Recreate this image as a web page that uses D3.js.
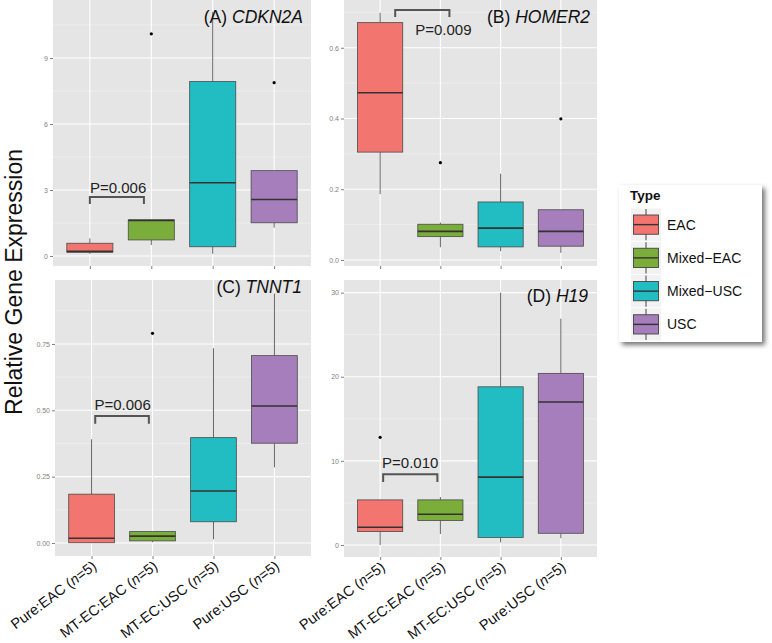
<!DOCTYPE html>
<html><head><meta charset="utf-8">
<script src="https://cdn.jsdelivr.net/npm/d3@7"></script>
<style>body{margin:0;background:#fff;} text{font-family:"Liberation Sans",Arial,sans-serif;}</style>
</head><body>
<svg id="chart" width="772" height="643"></svg>
<script>
// ---------------- data ----------------
const categories = ["Pure:EAC", "MT-EC:EAC", "MT-EC:USC", "Pure:USC"];
const sampleSizes = [5, 5, 5, 5];
const types = ["EAC", "Mixed-EAC", "Mixed-USC", "USC"];
const typeColors = ["#F2766F", "#7AAD3A", "#22BDC2", "#A57EBB"];

// [lower whisker, q1, median, q3, upper whisker]
const cdkn2aStats = [[0.09, 0.17, 0.21, 0.58, 0.80], [0.50, 0.73, 1.62, 1.64, 1.64], [0.10, 0.42, 3.33, 7.93, 11.10], [1.29, 1.51, 2.57, 3.88, 3.88]];
const cdkn2aOutliers = [[], [10.1], [], [7.88]];
const homer2Stats = [[0.186, 0.305, 0.473, 0.671, 0.699], [0.036, 0.066, 0.081, 0.101, 0.106], [0.025, 0.037, 0.090, 0.164, 0.244], [0.020, 0.039, 0.081, 0.142, 0.142]];
const homer2Outliers = [[], [0.275], [], [0.399]];
const tnnt1Stats = [[0.000, 0.001, 0.018, 0.184, 0.391], [0.003, 0.008, 0.026, 0.043, 0.043], [0.014, 0.080, 0.196, 0.397, 0.734], [0.285, 0.376, 0.516, 0.706, 0.940]];
const tnnt1Outliers = [[], [0.79], [], []];
const h19Stats = [[0.0, 1.59, 2.10, 5.36, 5.36], [1.30, 2.90, 3.65, 5.36, 5.70], [0.30, 0.90, 8.06, 18.80, 30.0], [0.80, 1.39, 17.0, 20.4, 26.9]];
const h19Outliers = [[12.8], [], [], []];

const cdkn2aTicks = [0, 3, 6, 9];
const homer2Ticks = [0, 0.2, 0.4, 0.6];
const tnnt1Ticks = [0, 0.25, 0.5, 0.75];
const h19Ticks = [0, 10, 20, 30];

const pValues = ["P=0.006", "P=0.009", "P=0.006", "P=0.010"];
const genes = ["CDKN2A", "HOMER2", "TNNT1", "H19"];
const panelLetters = ["(A)", "(B)", "(C)", "(D)"];

// ---------------- layout ----------------
const panels = [
  {stats: cdkn2aStats, out: cdkn2aOutliers, ticks: cdkn2aTicks, fmt: d3.format("d"), dom: [-0.455, 11.64],
   box: [53, 311, 0, 266], br: [1.0, 1.88, 2.68, 2.36], pt: [1.46, 2.86], title: [303, 23], xlabels: false},
  {stats: homer2Stats, out: homer2Outliers, ticks: homer2Ticks, fmt: d3.format(".1f"), dom: [-0.017, 0.735],
   box: [344, 597, 0, 266], br: [1.25, 2.15, 0.707, 0.687], pt: [2.05, 0.637], title: [590, 23], xlabels: false},
  {stats: tnnt1Stats, out: tnnt1Outliers, ticks: tnnt1Ticks, fmt: d3.format(".2f"), dom: [-0.049, 0.991],
   box: [55, 311, 280, 556], br: [1.06, 1.94, 0.479, 0.449], pt: [1.51, 0.501], title: [302, 293], xlabels: true},
  {stats: h19Stats, out: h19Outliers, ticks: h19Ticks, fmt: d3.format("d"), dom: [-1.43, 31.5],
   box: [344, 597, 280, 557], br: [1.05, 1.95, 8.4, 7.5], pt: [1.5, 9.1], title: [588, 302], xlabels: true}
];

const svg = d3.select("#chart");
svg.append("rect").attr("width", 772).attr("height", 643).attr("fill", "#fff");

panels.forEach((p, pi) => {
  const [l, r, t, b] = p.box;
  const x = d3.scaleLinear().domain([0.4, 4.6]).range([l, r]);
  const unit = x(2) - x(1);
  const y = d3.scaleLinear().domain(p.dom).range([b, t]);
  const g = svg.append("g");
  g.append("rect").attr("x", l).attr("y", t).attr("width", r - l).attr("height", b - t).attr("fill", "#E5E5E5");
  // minor grid
  const step = p.ticks[1] - p.ticks[0];
  const minors = [];
  for (let v = p.ticks[0] + step / 2; v < p.dom[1]; v += step) minors.push(v);
  g.selectAll(".mn").data(minors).join("line")
    .attr("x1", l).attr("x2", r).attr("y1", d => y(d)).attr("y2", d => y(d))
    .attr("stroke", "#F2F2F2").attr("stroke-width", 0.6);
  g.selectAll(".mj").data(p.ticks).join("line")
    .attr("x1", l).attr("x2", r).attr("y1", d => y(d)).attr("y2", d => y(d))
    .attr("stroke", "#fff").attr("stroke-width", 1.1);
  g.selectAll(".vg").data(categories).join("line")
    .attr("x1", (d, i) => x(i + 1)).attr("x2", (d, i) => x(i + 1)).attr("y1", t).attr("y2", b)
    .attr("stroke", "#fff").attr("stroke-width", 1.1);
  // axes
  const ya = d3.axisLeft(y).tickValues(p.ticks).tickFormat(p.fmt).tickSize(3).tickPadding(2);
  const yg = g.append("g").attr("transform", `translate(${l},0)`).call(ya);
  yg.select(".domain").remove();
  yg.selectAll("line").attr("stroke", "#7F7F7F");
  yg.selectAll("text").attr("fill", "#7F7F7F").attr("font-size", 7).attr("font-family", "Liberation Sans, Arial, sans-serif");
  const xa = d3.axisBottom(x).tickValues([1, 2, 3, 4]).tickFormat("").tickSize(3);
  const xg = g.append("g").attr("transform", `translate(0,${b})`).call(xa);
  xg.select(".domain").remove();
  xg.selectAll("line").attr("stroke", "#7F7F7F");
  // boxes
  const bw = unit * 0.75;
  p.stats.forEach((s, i) => {
    const cx = x(i + 1);
    g.append("line").attr("x1", cx).attr("x2", cx).attr("y1", y(s[0])).attr("y2", y(s[1])).attr("stroke", "#666").attr("stroke-width", 1);
    g.append("line").attr("x1", cx).attr("x2", cx).attr("y1", y(s[3])).attr("y2", y(s[4])).attr("stroke", "#666").attr("stroke-width", 1);
    g.append("rect").attr("x", cx - bw / 2).attr("width", bw).attr("y", y(s[3])).attr("height", Math.max(0.5, y(s[1]) - y(s[3])))
      .attr("fill", typeColors[i]).attr("stroke", "#4a4a4a").attr("stroke-width", 0.8);
    g.append("line").attr("x1", cx - bw / 2).attr("x2", cx + bw / 2).attr("y1", y(s[2])).attr("y2", y(s[2]))
      .attr("stroke", "#333").attr("stroke-width", 1.6);
    p.out[i].forEach(v => g.append("circle").attr("cx", cx).attr("cy", y(v)).attr("r", 1.6).attr("fill", "#000"));
  });
  // bracket
  const [b1, b2, by, be] = p.br;
  g.append("path").attr("d", `M${x(b1)},${y(be)}V${y(by)}H${x(b2)}V${y(be)}`)
    .attr("fill", "none").attr("stroke", "#555").attr("stroke-width", 2);
  g.append("text").attr("x", x(p.pt[0])).attr("y", y(p.pt[1])).attr("text-anchor", "middle")
    .attr("font-size", 15).attr("fill", "#222").text(pValues[pi]);
  // title
  const tt = g.append("text").attr("x", p.title[0]).attr("y", p.title[1]).attr("text-anchor", "end")
    .attr("font-size", 17.5).attr("fill", "#111");
  tt.append("tspan").text(panelLetters[pi] + " ");
  tt.append("tspan").attr("font-style", "italic").text(genes[pi]);
  // x labels
  if (p.xlabels) {
    categories.forEach((c, i) => {
      const tx = g.append("text").attr("text-anchor", "end").attr("font-size", 14.5).attr("fill", "#111")
        .attr("transform", `translate(${x(i + 1) + 6},${b + 12}) rotate(-37)`);
      tx.append("tspan").text(c + " (");
      tx.append("tspan").attr("font-style", "italic").text("n");
      tx.append("tspan").text("=" + sampleSizes[i] + ")");
    });
  }
});

// y title
svg.append("text").attr("transform", "translate(22,282) rotate(-90)").attr("text-anchor", "middle")
  .attr("font-size", 23).attr("fill", "#111").text("Relative Gene Expression");

// legend
const defs = svg.append("defs");
const f = defs.append("filter").attr("id", "sh").attr("x", "-10%").attr("y", "-10%").attr("width", "130%").attr("height", "130%");
f.append("feDropShadow").attr("dx", 3).attr("dy", 3).attr("stdDeviation", 2.5).attr("flood-color", "#000").attr("flood-opacity", 0.55);
const lg = svg.append("g");
lg.append("rect").attr("x", 619).attr("y", 185).attr("width", 143).attr("height", 157).attr("fill", "#fff").attr("filter", "url(#sh)");
lg.append("text").attr("x", 630).attr("y", 200).attr("font-size", 13.5).attr("font-weight", "bold").attr("fill", "#111").text("Type");
const ky = d3.scaleBand().domain(types).range([208, 341]);
types.forEach((tname, i) => {
  const y0 = ky(tname), h = ky.bandwidth();
  lg.append("rect").attr("x", 631).attr("y", y0 + 0.5).attr("width", 30).attr("height", h - 1).attr("fill", "#F2F2F2");
  lg.append("line").attr("x1", 646).attr("x2", 646).attr("y1", y0 + 1).attr("y2", y0 + h - 1).attr("stroke", "#444").attr("stroke-width", 1);
  lg.append("rect").attr("x", 633.5).attr("y", y0 + 7).attr("width", 25).attr("height", h - 14)
    .attr("fill", typeColors[i]).attr("stroke", "#444").attr("stroke-width", 0.9);
  lg.append("line").attr("x1", 633.5).attr("x2", 658.5).attr("y1", y0 + h / 2).attr("y2", y0 + h / 2).attr("stroke", "#333").attr("stroke-width", 1.4);
  lg.append("text").attr("x", 667).attr("y", y0 + h / 2 + 5).attr("font-size", 14).attr("fill", "#111").text(tname.replace("-", "\u2212"));
});
</script>
</body></html>
